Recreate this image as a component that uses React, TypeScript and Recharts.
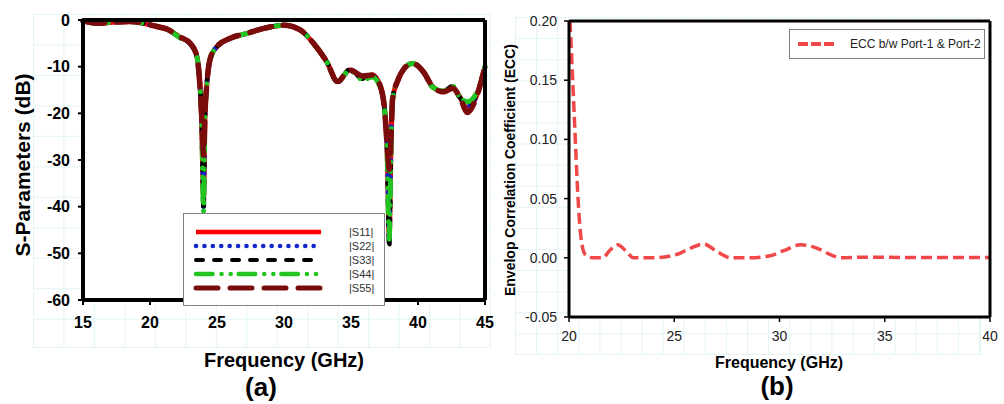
import { LineChart, Line, XAxis, YAxis, ReferenceLine, Legend, CartesianGrid } from "recharts"

const FONT = "Arial, 'Liberation Sans', Helvetica, sans-serif"

// (a) S-parameters
const freq = [15, 16, 17.2, 18.5, 19.8, 20.5, 21.3, 22.2, 23, 23.5, 23.7, 23.85, 24.0, 24.1, 24.25, 24.5, 25, 26, 27.2, 28.5, 30, 31.2, 32.2, 33.2, 34, 34.9, 35.9, 36.6, 37.2, 37.5, 37.7, 37.85, 38.0, 38.1, 38.5, 39, 39.6, 40.4, 41.1, 41.9, 42.6, 43.1, 43.7, 44.4, 45]
const s11 = [-0.2, -0.7, -0.5, -0.3, -0.9, -1.4, -2.0, -3.6, -5.0, -7.8, -13, -21, -38, -21, -13.5, -8.2, -5.7, -3.9, -2.9, -1.8, -1.1, -2.1, -5.0, -9.0, -13.2, -10.7, -12.2, -11.8, -14.3, -19, -28, -46, -25, -17, -12.9, -10.3, -9.3, -11.1, -14.3, -15.4, -14.6, -16.4, -19.0, -16.0, -10.0]
const s22 = [-0.2, -0.7, -0.5, -0.3, -0.9, -1.4, -2.0, -3.7, -5.1, -7.9, -13, -21, -40, -21, -13.5, -8.3, -5.7, -3.9, -2.9, -1.8, -1.1, -2.1, -5.0, -9.0, -13.3, -10.8, -12.5, -12.0, -14.5, -19, -28, -47, -25, -17, -12.9, -10.3, -9.3, -11.1, -14.4, -15.3, -14.5, -16.6, -18.5, -16.0, -10.0]
const s33 = [-0.2, -0.7, -0.5, -0.3, -0.9, -1.4, -2.0, -3.7, -5.1, -7.9, -13, -21, -41, -21, -13.5, -8.3, -5.7, -3.9, -2.9, -1.8, -1.1, -2.1, -5.0, -9.0, -13.3, -10.6, -12.6, -12.0, -14.6, -19, -29, -49, -26, -17, -12.9, -10.3, -9.3, -11.1, -14.4, -15.2, -14.2, -16.5, -18.0, -15.8, -10.0]
const s44 = [-0.2, -0.7, -0.5, -0.3, -0.9, -1.4, -2.0, -3.7, -5.1, -7.9, -13, -21, -41, -21, -13.5, -8.3, -5.7, -3.9, -2.9, -1.8, -1.1, -2.1, -5.0, -9.0, -13.2, -10.8, -12.8, -12.2, -14.6, -19, -29, -47, -26, -17, -12.9, -10.3, -9.3, -11.1, -14.4, -15.2, -14.2, -16.5, -17.5, -15.5, -10.0]
const s55 = [-0.2, -0.7, -0.5, -0.3, -0.9, -1.4, -2.0, -3.6, -5.0, -7.8, -13, -20, -29, -20, -13.5, -8.2, -5.7, -3.9, -2.9, -1.8, -1.1, -2.1, -5.0, -9.0, -13.2, -10.7, -12.0, -11.8, -14.3, -19, -27, -32, -24, -17, -12.9, -10.3, -9.3, -11.1, -14.3, -15.4, -14.6, -16.4, -19.8, -16.2, -10.0]
const seriesNames = ["|S11|", "|S22|", "|S33|", "|S44|", "|S55|"]
const xTicksA = [15, 20, 25, 30, 35, 40, 45]
const yTicksA = [-60, -50, -40, -30, -20, -10, 0]

// (b) ECC
const eccFreq = [20.05, 20.25, 20.43, 20.55, 20.76, 21.1, 21.6, 21.95, 22.3, 22.75, 23.05, 24, 25.15, 25.75, 26.4, 27.05, 27.7, 28.6, 29.55, 30.2, 31.0, 31.8, 32.55, 32.9, 34, 36, 38, 40]
const ecc = [0.2, 0.12, 0.05, 0.02, 0.003, 0, 0, 0.0066, 0.011, 0.005, 0, 0, 0.003, 0.008, 0.0116, 0.005, 0, 0, 0.0017, 0.006, 0.011, 0.008, 0.0017, 0, 0.0005, 0.0003, 0.0002, 0.0002]
const eccName = "ECC b/w Port-1 & Port-2"
const xTicksB = [20, 25, 30, 35, 40]
const yTicksB = [-0.05, 0, 0.05, 0.1, 0.15, 0.2]

const sData = freq.map((f, i) => ({ f, s11: s11[i], s22: s22[i], s33: s33[i], s44: s44[i], s55: s55[i] }))
const eccData = eccFreq.map((f, i) => ({ f, ecc: ecc[i] }))

const sStyles = [
  { key: "s11", color: "#ff0000", dash: undefined, cap: "butt", width: 5 },
  { key: "s22", color: "#1028c8", dash: "0.1 8.3", cap: "round", width: 5 },
  { key: "s33", color: "#000000", dash: "7 11", cap: "round", width: 4.5 },
  { key: "s44", color: "#22c422", dash: "16.5 9 0.1 9 0.1 8", cap: "round", width: 5 },
  { key: "s55", color: "#7b0c0c", dash: "22 12", cap: "round", width: 5.5 },
]

const SLegend = () => (
  <div style={{ width: 200, height: 91, border: "1px solid #808080", background: "#fff" }}>
    <svg width={200} height={91}>
      {sStyles.map((s, i) => (
        <g key={s.key}>
          <line x1={12} x2={137} y1={18 + i * 14} y2={18 + i * 14} stroke={s.color} strokeWidth={s.width - 0.5}
            strokeDasharray={s.dash} strokeLinecap={s.cap as any} />
          <text x={165} y={22 + i * 14} fontSize={11} fill="#333" fontFamily={FONT}>{seriesNames[i]}</text>
        </g>
      ))}
    </svg>
  </div>
)

const EccLegend = () => (
  <div style={{ width: 194, height: 28, border: "1px solid #808080", background: "#fff" }}>
    <svg width={194} height={28}>
      <line x1={8} x2={44} y1={14} y2={14} stroke="#f04848" strokeWidth={4} strokeDasharray="10 3" />
      <text x={60} y={18} fontSize={12} fill="#222" fontFamily={FONT}>{eccName}</text>
    </svg>
  </div>
)

const abs = (left: number, top: number, extra: any = {}) => ({
  position: "absolute" as const, left, top, whiteSpace: "nowrap" as const, lineHeight: 1, ...extra,
})

// faint worksheet grid behind both panels
const sheet = (left: number, top: number, width: number, height: number, step: number) => ({
  position: "absolute" as const, left, top, width, height,
  backgroundImage: "linear-gradient(to right, #e2f4f4 1px, transparent 1px), linear-gradient(to bottom, #e2f4f4 1px, transparent 1px)",
  backgroundSize: `${step}px ${step}px`,
  borderRight: "1px solid #e2f4f4", borderBottom: "1px solid #e2f4f4",
})

export default function App() {
  return (
    <div style={{ position: "absolute", left: 0, top: 0, width: 1004, height: 404, background: "#fff", fontFamily: FONT, overflow: "hidden" }}>
      <div style={sheet(33, 14, 457, 333, 30.47)} />
      <div style={sheet(515, 17, 465, 337, 21.1)} />
      <div style={{ position: "absolute", left: 0, top: 0 }}>
        <LineChart width={500} height={404} data={sData} margin={{ top: 20, right: 15, bottom: 74, left: 0 }}>
          <CartesianGrid fill="#fff" horizontal={false} vertical={false} />
          <XAxis dataKey="f" type="number" domain={[15, 45]} ticks={xTicksA} height={30} stroke="#000"
            axisLine={{ strokeWidth: 4 }} tickLine={{ strokeWidth: 2 }} tickSize={5} tickMargin={12}
            tick={{ fill: "#000", fontSize: 16, fontWeight: 700, fontFamily: FONT }} />
          <YAxis type="number" domain={[-60, 0]} ticks={yTicksA} width={83} stroke="#000"
            axisLine={{ strokeWidth: 4 }} tickLine={{ strokeWidth: 2 }} tickSize={5} tickMargin={8}
            tick={{ fill: "#000", fontSize: 16, fontWeight: 700, fontFamily: FONT }} />
          {sStyles.map((s) => (
            <Line key={s.key} type="monotone" dataKey={s.key} stroke={s.color} strokeWidth={s.width}
              strokeDasharray={s.dash} strokeLinecap={s.cap as any} dot={false} isAnimationActive={false} />
          ))}
          <ReferenceLine y={0} stroke="#000" strokeWidth={4} />
          <ReferenceLine x={45} stroke="#000" strokeWidth={4} />
          <Legend layout="vertical" align="center" verticalAlign="middle" content={() => <SLegend />}
            wrapperStyle={{ left: 183, top: 213, width: 202, height: 93 }} />
        </LineChart>
      </div>
      <div style={abs(22, 165, { transform: "translate(-50%,-50%) rotate(-90deg)", fontSize: 21, fontWeight: 700 })}>S-Parameters (dB)</div>
      <div style={abs(284, 350, { transform: "translateX(-50%)", fontSize: 20, fontWeight: 700 })}>Frequency (GHz)</div>
      <div style={abs(261, 374, { transform: "translateX(-50%)", fontSize: 26, fontWeight: 700 })}>(a)</div>

      <div style={{ position: "absolute", left: 500, top: 0 }}>
        <LineChart width={504} height={404} data={eccData} margin={{ top: 21, right: 14, bottom: 57, left: 0 }}>
          <CartesianGrid fill="#fff" horizontal={false} vertical={false} />
          <XAxis dataKey="f" type="number" domain={[20, 40]} ticks={xTicksB} height={30} stroke="#000"
            axisLine={{ strokeWidth: 3 }} tickLine={{ strokeWidth: 1.5 }} tickSize={5} tickMargin={9}
            tick={{ fill: "#222", fontSize: 14, fontFamily: FONT }} />
          <YAxis type="number" domain={[-0.05, 0.2]} ticks={yTicksB} width={69} stroke="#000"
            axisLine={{ strokeWidth: 3 }} tickLine={{ strokeWidth: 1.5 }} tickSize={5} tickMargin={7}
            tickFormatter={(v: number) => v.toFixed(2)}
            tick={{ fill: "#222", fontSize: 14, fontFamily: FONT }} />
          <Line type="monotone" dataKey="ecc" stroke="#f04848" strokeWidth={3.5} strokeDasharray="11 5"
            dot={false} isAnimationActive={false} />
          <ReferenceLine y={0.2} stroke="#000" strokeWidth={3} />
          <ReferenceLine x={40} stroke="#000" strokeWidth={3} />
          <Legend layout="vertical" align="center" verticalAlign="middle" content={() => <EccLegend />}
            wrapperStyle={{ left: 289, top: 29, width: 196, height: 30 }} />
        </LineChart>
      </div>
      <div style={abs(510, 170, { transform: "translate(-50%,-50%) rotate(-90deg)", fontSize: 14, fontWeight: 700 })}>Envelop Correlation Coefficient (ECC)</div>
      <div style={abs(779, 355, { transform: "translateX(-50%)", fontSize: 16, fontWeight: 700 })}>Frequency (GHz)</div>
      <div style={abs(777, 373, { transform: "translateX(-50%)", fontSize: 26, fontWeight: 700 })}>(b)</div>
    </div>
  )
}
